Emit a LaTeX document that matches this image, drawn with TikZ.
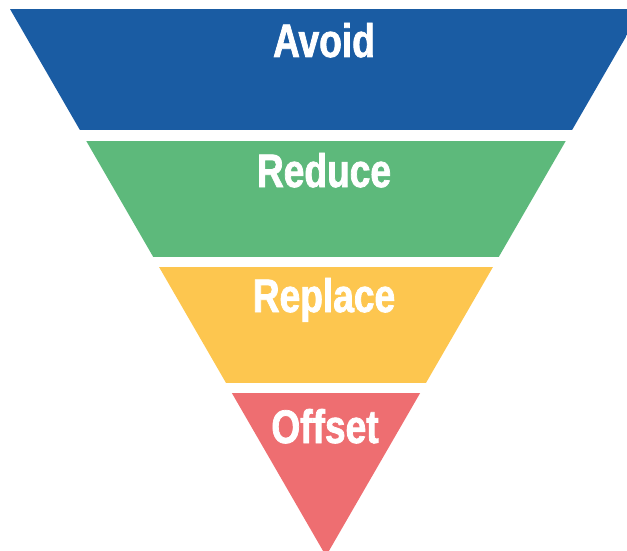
\documentclass[tikz,border=0pt]{standalone}
\usepackage{fontspec}
\usepackage{xcolor}
\newfontfamily\bandfont[FakeStretch=0.79,FakeBold=1.6]{Liberation Sans}
\definecolor{avoid-blue}{HTML}{1A5CA3}
\definecolor{reduce-green}{HTML}{5DB97B}
\definecolor{replace-yellow}{HTML}{FDC64F}
\definecolor{offset-red}{HTML}{EE6E71}
\tikzset{
    band-label/.style = {text=white, font=\bandfont\bfseries\fontsize{47}{47}\selectfont, anchor=base, inner sep=0pt},
}

\begin{document}
\begin{tikzpicture}[x=1pt,y=-1pt]
\useasboundingbox (0,0) rectangle (627,551);
\begin{scope}
\clip (10,9) -- (642,9) -- (326,556) -- cycle;
\fill[avoid-blue] (0,9) rectangle (660,130);
\fill[reduce-green] (0,141) rectangle (660,257);
\fill[replace-yellow] (0,267) rectangle (660,383);
\fill[offset-red] (0,393) rectangle (660,560);
\end{scope}
\node[band-label] (avoid) at (324,57) {Avoid};
\node[band-label] (reduce) at (324,187) {Reduce};
\node[band-label] (replace) at (324,312) {Replace};
\node[band-label] (offset) at (325,443) {Offset};
\end{tikzpicture}
\end{document}
